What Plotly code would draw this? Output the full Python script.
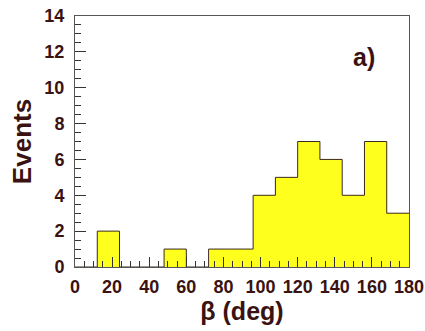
import plotly.graph_objects as go

bin_edges = [0, 12, 24, 36, 48, 60, 72, 84, 96, 108, 120, 132, 144, 156, 168, 180]
counts = [0, 2, 0, 0, 1, 0, 1, 1, 4, 5, 7, 6, 4, 7, 3]
x_ticks = [0, 20, 40, 60, 80, 100, 120, 140, 160, 180]
y_ticks = [0, 2, 4, 6, 8, 10, 12, 14]

centers = [(a + b) / 2 for a, b in zip(bin_edges[:-1], bin_edges[1:])]
widths = [b - a for a, b in zip(bin_edges[:-1], bin_edges[1:])]

txt = "#3a1212"
fnt = "Liberation Sans, Arial, sans-serif"

fig = go.Figure()
fig.add_trace(go.Bar(x=centers, y=counts, width=widths,
                     marker=dict(color="#ffff1e", line=dict(width=0)),
                     hoverinfo="skip"))
fig.add_trace(go.Scatter(x=bin_edges, y=counts + [counts[-1]], mode="lines",
                         line=dict(shape="hv", color="#3a2a20", width=1),
                         hoverinfo="skip"))

fig.update_layout(
    width=425, height=331,
    margin=dict(l=75, r=16, t=16, b=64),
    paper_bgcolor="white", plot_bgcolor="white",
    showlegend=False, bargap=0,
    font=dict(family=fnt, color=txt),
    annotations=[dict(x=0.866, y=0.837, xref="paper", yref="paper",
                      xanchor="center", yanchor="middle",
                      text="<b>a)</b>", showarrow=False,
                      font=dict(size=25, color=txt, family=fnt))],
)
fig.update_xaxes(
    range=[0, 180], tickvals=x_ticks, ticktext=[f"<b>{v}</b>" for v in x_ticks],
    ticks="inside", ticklen=10, tickwidth=1, tickcolor="#333",
    showline=True, mirror=True, linecolor="#555", linewidth=1,
    showgrid=False, zeroline=False, automargin=False,
    tickfont=dict(size=18, color=txt), ticklabelstandoff=3,
    minor=dict(dtick=5, tick0=0, ticks="inside", ticklen=6, tickcolor="#333", showgrid=False),
    title=dict(text="<b>β (deg)</b>", font=dict(size=25, color=txt), standoff=6),
)
fig.update_yaxes(
    range=[0, 14], tickvals=y_ticks, ticktext=[f"<b>{v}</b>" for v in y_ticks],
    ticks="inside", ticklen=11, tickwidth=1, tickcolor="#333",
    showline=True, mirror=True, linecolor="#555", linewidth=1,
    showgrid=False, zeroline=False, automargin=False,
    tickfont=dict(size=18, color=txt), ticklabelstandoff=6,
    minor=dict(dtick=0.5, tick0=0, ticks="inside", ticklen=6, tickcolor="#333", showgrid=False),
    title=dict(text="<b>Events</b>", font=dict(size=26, color=txt), standoff=5),
)
fig.write_html("out.html")
